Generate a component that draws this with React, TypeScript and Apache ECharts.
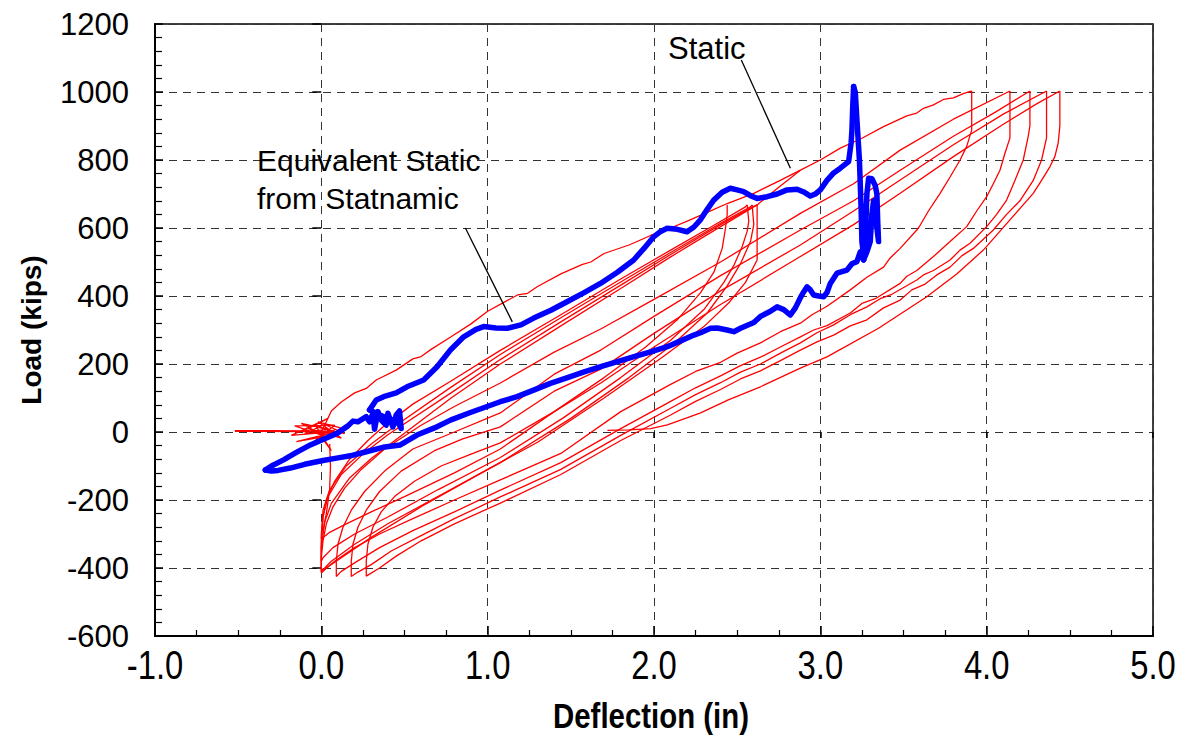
import React, { useEffect, useRef } from "react";
import * as echarts from "echarts";

// ---- axis definitions ----
const xMin = -1;
const xMax = 5;
const xStep = 1;
const yMin = -600;
const yMax = 1200;
const yStep = 200;
const xTickValues = [-1, 0, 1, 2, 3, 4, 5];

// ---- Static load test (red), branches in test order ----
const staticStart: number[][] = [
  [-0.52, 4], [-0.3, 4], [-0.08, 3], [-0.52, 2], [-0.1, 1], [0.05, 8], [-0.12, 25], [0.02, -12],
  [-0.16, 18], [0.08, 20], [-0.05, -30], [0.1, 2], [-0.18, -10], [0.04, 40], [-0.08, 10], [0.12, -18],
  [-0.02, 30], [0.15, 8], [-0.15, -28], [0.0, -15], [0.06, -55], [-0.03, 15], [0.14, -5], [0.02, 22],
  [-0.1, -5], [0.08, 5], [0.0, 0],
];
const staticDrop: number[][] = [
  [0.05, -35], [0.055, -100], [0.05, -170], [0.03, -240], [0.01, -290],
];
const staticVirgin: number[][] = [
  [0.0, 0], [0.03, 30], [0.06, 62], [0.12, 88], [0.2, 115], [0.27, 128], [0.33, 153], [0.45, 182],
  [0.55, 215], [0.6, 222], [0.66, 243], [0.78, 280], [0.9, 318], [1.0, 355], [1.1, 382], [1.18, 403],
  [1.24, 408], [1.3, 428], [1.44, 465], [1.57, 493], [1.62, 500], [1.7, 525], [1.85, 550], [1.98, 578],
  [2.1, 600], [2.2, 620], [2.32, 646], [2.44, 672], [2.6, 702], [2.75, 738], [2.88, 770], [3.0, 800],
  [3.12, 835], [3.25, 864], [3.38, 898], [3.52, 930], [3.58, 938], [3.62, 952], [3.68, 962], [3.74, 978],
  [3.8, 983], [3.86, 995], [3.91, 1003],
];
const unload660a: number[][] = [
  [2.44, 668], [2.44, 640], [2.43, 600], [2.41, 540], [2.36, 470], [2.28, 410], [2.14, 330], [1.95, 250],
  [1.7, 160], [1.4, 60], [1.076, -50], [0.8, -120], [0.5, -190], [0.3, -235], [0.15, -270], [0.05, -295],
  [0.0, -315],
];
const reload660a: number[][] = [
  [0.0, -315], [0.01, -250], [0.03, -200], [0.08, -145], [0.17, -80], [0.28, -25], [0.37, 15], [0.55, 82],
  [0.78, 150], [1.076, 240], [1.44, 345], [1.8, 450], [2.1, 535], [2.35, 605], [2.55, 662], [2.56, 668],
];
const unload660b: number[][] = [
  [2.56, 668], [2.57, 620], [2.56, 590], [2.53, 545], [2.48, 490], [2.42, 440], [2.3, 360], [2.1, 270],
  [1.8, 160], [1.45, 40], [1.076, -75], [0.7, -170], [0.4, -250], [0.2, -300], [0.07, -340], [0.01, -370],
  [0.0, -380],
];
const reload660b: number[][] = [
  [0.0, -380], [0.0, -300], [0.01, -230], [0.05, -170], [0.15, -100], [0.3, -35], [0.45, 20], [0.78, 132],
  [1.076, 228], [1.44, 336], [1.8, 441], [2.1, 528], [2.4, 614], [2.58, 662], [2.59, 668],
];
const unload660c: number[][] = [
  [2.59, 668], [2.6, 610], [2.58, 560], [2.52, 495], [2.44, 430], [2.32, 350], [2.12, 260], [1.85, 160],
  [1.5, 40], [1.076, -90], [0.7, -190], [0.4, -270], [0.2, -330], [0.06, -380], [0.01, -405], [0.0, -412],
];
const reload660c: number[][] = [
  [0.0, -412], [0.0, -330], [0.01, -250], [0.04, -190], [0.12, -125], [0.25, -65], [0.4, -8], [0.78, 115],
  [1.076, 213], [1.44, 324], [1.8, 432], [2.1, 522], [2.4, 610], [2.6, 664], [2.62, 668], [2.62, 600],
  [2.62, 506],
];
const unload660d: number[][] = [
  [2.62, 506], [2.55, 440], [2.45, 380], [2.3, 310], [2.05, 220], [1.7, 100], [1.3, -30], [1.0, -110],
  [0.6, -220], [0.3, -310], [0.12, -370], [0.03, -400], [0.0, -405],
];
const reload660d: number[][] = [
  [0.0, -405], [0.0, -340], [0.02, -265], [0.06, -210], [0.17, -135], [0.3, -78], [0.45, -22], [0.78, 100],
  [1.076, 200], [1.44, 312], [1.8, 422], [2.1, 515], [2.4, 604], [2.62, 668], [2.75, 720], [2.88, 770],
];
const unload1000a: number[][] = [
  [3.91, 1003], [3.91, 888], [3.88, 840], [3.84, 800], [3.78, 750], [3.72, 702], [3.65, 650], [3.6, 608],
  [3.58, 594], [3.48, 540], [3.42, 512], [3.38, 485], [3.28, 455], [3.18, 418], [3.04, 370], [2.95, 345],
  [2.88, 320], [2.76, 295], [2.64, 262], [2.5, 232], [2.4, 205], [2.25, 178], [2.1, 140], [1.8, 60],
  [1.44, -63], [1.076, -141], [0.8, -200], [0.55, -255], [0.35, -300], [0.2, -340], [0.08, -380],
  [0.02, -405], [0.0, -415],
];
const reload1000a: number[][] = [
  [0.0, -415], [0.0, -370], [0.01, -320], [0.03, -270], [0.07, -220], [0.14, -165], [0.24, -110],
  [0.38, -50], [0.6, 20], [0.8, 75], [1.076, 144], [1.4, 235], [1.68, 303], [2.0, 390], [2.4, 500],
  [2.88, 643], [3.2, 730], [3.48, 829], [3.8, 920], [4.14, 1003],
];
const unload1000b: number[][] = [
  [4.14, 1003], [4.14, 865], [4.11, 820], [4.08, 770], [4.04, 730], [4.0, 692], [3.94, 650], [3.88, 604],
  [3.78, 560], [3.72, 534], [3.68, 516], [3.58, 475], [3.52, 458], [3.48, 437], [3.33, 392], [3.25, 378],
  [3.18, 350], [3.04, 313], [2.96, 300], [2.88, 280], [2.76, 250], [2.64, 220], [2.52, 195], [2.4, 165],
  [2.25, 130], [2.1, 90], [1.8, 10], [1.44, -90], [1.076, -171], [0.8, -235], [0.55, -290], [0.35, -340],
  [0.2, -385], [0.12, -410], [0.09, -425],
];
const reload1000b: number[][] = [
  [0.09, -425], [0.09, -380], [0.1, -330], [0.13, -280], [0.18, -230], [0.26, -175], [0.38, -115],
  [0.55, -50], [0.8, 0], [1.076, 56], [1.4, 170], [1.68, 241], [2.0, 340], [2.4, 460], [2.88, 594],
  [3.2, 680], [3.48, 770], [3.8, 870], [4.05, 940], [4.26, 1003],
];
const unload1000c: number[][] = [
  [4.26, 1003], [4.26, 900], [4.25, 870], [4.22, 800], [4.17, 740], [4.12, 682], [4.06, 640], [4.0, 604],
  [3.9, 555], [3.84, 535], [3.78, 506], [3.68, 475], [3.62, 462], [3.58, 447], [3.43, 405], [3.36, 392],
  [3.28, 368], [3.18, 345], [3.08, 315], [2.98, 292], [2.88, 262], [2.76, 232], [2.64, 200], [2.52, 176],
  [2.4, 145], [2.25, 110], [2.1, 70], [1.8, -10], [1.44, -110], [1.076, -191], [0.8, -255], [0.6, -305],
  [0.42, -350], [0.3, -390], [0.22, -412], [0.18, -425],
];
const reload1000c: number[][] = [
  [0.18, -425], [0.18, -380], [0.19, -330], [0.22, -280], [0.27, -230], [0.35, -175], [0.48, -115],
  [0.68, -55], [0.85, -20], [1.076, 15], [1.4, 120], [1.68, 185], [2.0, 290], [2.4, 415], [2.88, 550],
  [3.2, 650], [3.48, 741], [3.8, 845], [4.1, 935], [4.36, 1003],
];
const unload1000d: number[][] = [
  [4.36, 1003], [4.36, 865], [4.33, 800], [4.28, 740], [4.2, 680], [4.12, 640], [4.04, 594], [3.92, 540],
  [3.85, 518], [3.78, 485], [3.7, 462], [3.63, 435], [3.55, 418], [3.48, 388], [3.38, 365], [3.28, 330],
  [3.18, 312], [3.08, 285], [2.98, 265], [2.88, 241], [2.76, 210], [2.64, 180], [2.52, 156], [2.4, 125],
  [2.25, 90], [2.1, 50], [1.8, -25], [1.44, -125], [1.076, -209], [0.8, -270], [0.6, -320], [0.45, -365],
  [0.35, -400], [0.29, -418], [0.27, -424],
];
const reload1000d: number[][] = [
  [0.27, -424], [0.27, -380], [0.28, -330], [0.31, -280], [0.36, -235], [0.44, -190], [0.56, -145],
  [0.72, -100], [0.9, -65], [1.076, -32], [1.4, 60], [1.68, 144], [2.0, 250], [2.4, 375], [2.88, 516],
  [3.2, 610], [3.48, 702], [3.8, 810], [4.1, 905], [4.3, 965], [4.44, 1003],
];
const unloadFinal: number[][] = [
  [4.44, 1003], [4.44, 900], [4.43, 850], [4.41, 810], [4.38, 780], [4.33, 740], [4.28, 702], [4.14, 624],
  [3.98, 535], [3.82, 465], [3.64, 398], [3.35, 305], [3.04, 221], [2.88, 188], [2.64, 133], [2.45, 95],
  [2.28, 56], [2.16, 35], [2.08, 21], [1.98, 10], [1.85, 6], [1.72, 5],
];

// ---- Equivalent static from Statnamic (blue) ----
const statnamicStart: number[][] = [
  [-0.337, -112], [-0.3, -100], [-0.227, -82], [-0.15, -60], [-0.066, -38], [0.02, -20], [0.094, -4],
  [0.16, 18], [0.19, 32], [0.22, 30], [0.27, 45], [0.29, 30], [0.31, 55], [0.32, 8], [0.34, 60], [0.36, 35],
  [0.39, 20], [0.4, 55], [0.43, 15], [0.45, 50], [0.47, 62], [0.48, 10], [0.46, 30], [0.4, 40], [0.33, 55],
  [0.29, 65],
];
const statnamicLoad: number[][] = [
  [0.29, 65], [0.33, 94], [0.375, 104], [0.45, 115], [0.515, 133], [0.615, 153], [0.696, 192], [0.776, 241],
  [0.856, 280], [0.93, 302], [0.976, 310], [1.05, 306], [1.117, 305], [1.2, 315], [1.277, 335], [1.38, 358],
  [1.477, 383], [1.58, 410], [1.678, 437], [1.78, 470], [1.878, 506], [1.94, 540], [1.998, 574], [2.04, 590],
  [2.079, 599], [2.14, 596], [2.199, 589], [2.24, 603], [2.279, 624], [2.32, 655], [2.359, 682], [2.41, 705],
  [2.459, 717], [2.5, 712], [2.539, 707], [2.58, 695], [2.62, 687], [2.68, 692], [2.74, 700], [2.8, 712],
  [2.86, 714], [2.9, 706], [2.94, 694], [2.97, 700], [3.0, 712], [3.04, 740], [3.08, 762], [3.12, 776],
  [3.17, 795], [3.185, 850], [3.19, 888], [3.195, 960], [3.2, 1016],
];
const statnamicPeak: number[][] = [
  [3.2, 1016], [3.21, 1000], [3.22, 918], [3.235, 800], [3.245, 660], [3.25, 560], [3.26, 520], [3.27, 560],
  [3.28, 700], [3.29, 746], [3.31, 745], [3.33, 725], [3.34, 700], [3.345, 620], [3.35, 560], [3.34, 600],
  [3.32, 680], [3.31, 640], [3.3, 560], [3.28, 530], [3.26, 506],
];
const statnamicUnload: number[][] = [
  [3.26, 506], [3.24, 530], [3.22, 501], [3.19, 495], [3.16, 476], [3.1, 467], [3.06, 437], [3.04, 410],
  [3.02, 398], [2.99, 400], [2.96, 403], [2.94, 418], [2.92, 427], [2.9, 412], [2.88, 395], [2.85, 365],
  [2.82, 344], [2.78, 360], [2.74, 368], [2.7, 355], [2.64, 340], [2.6, 322], [2.52, 305], [2.48, 295],
  [2.44, 300], [2.38, 306], [2.34, 305], [2.28, 292], [2.24, 285], [2.16, 268], [2.08, 251], [1.98, 236],
  [1.88, 222], [1.78, 207], [1.68, 192], [1.58, 177], [1.48, 160], [1.377, 143], [1.28, 124], [1.177, 104],
  [1.076, 89], [0.98, 72], [0.9, 58], [0.776, 35], [0.68, 12], [0.575, -9], [0.475, -38], [0.37, -45],
  [0.27, -58], [0.174, -70], [0.1, -76], [0.01, -84], [-0.1, -95], [-0.186, -106], [-0.26, -113],
  [-0.3, -115], [-0.337, -112],
];

// ---- annotations ----
const staticLeader: number[][] = [[2.525, 1094], [2.82, 776]];
const statnamicLeader: number[][] = [[0.866, 600], [1.148, 324]];
const staticLabel = "Static";
const statnamicLabel = ["Equivalent Static", "from Statnamic"];
const xTitle = "Deflection (in)";
const yTitle = "Load (kips)";

const redBranches = [
  staticStart, staticDrop, staticVirgin,
  unload660a, reload660a, unload660b, reload660b, unload660c, reload660c, unload660d, reload660d,
  unload1000a, reload1000a, unload1000b, reload1000b, unload1000c, reload1000c, unload1000d, reload1000d,
  unloadFinal,
];
const blueBranches = [statnamicStart, statnamicLoad, statnamicPeak, statnamicUnload];

export default function App() {
  const ref = useRef<HTMLDivElement>(null);
  useEffect(() => {
    if (!ref.current) return;
    const chart = echarts.init(ref.current, undefined, { renderer: "svg" });
    const sans = '"Liberation Sans", Arial, sans-serif';
    const series: any[] = [];
    redBranches.forEach((d) =>
      series.push({
        type: "line", data: d, showSymbol: false, symbol: "none", silent: true, z: 2,
        lineStyle: { color: "#FF0000", width: 1.3 },
      })
    );
    blueBranches.forEach((d) =>
      series.push({
        type: "line", data: d, showSymbol: false, symbol: "none", silent: true, z: 3,
        lineStyle: { color: "#0000FF", width: 5.5, join: "round", cap: "round" },
      })
    );
    [staticLeader, statnamicLeader].forEach((d) =>
      series.push({
        type: "line", data: d, showSymbol: false, symbol: "none", silent: true, z: 4,
        lineStyle: { color: "#000", width: 1.3 },
      })
    );
    const grid = { left: 155, right: 25, top: 24, bottom: 101, show: true, borderColor: "#000", borderWidth: 1.5 };
    chart.setOption({
      animation: false,
      backgroundColor: "#fff",
      grid,
      xAxis: [
        {
          type: "value", min: xMin, max: xMax, interval: xStep, position: "bottom",
          axisLine: { show: true, onZero: false, lineStyle: { color: "#000", width: 2 } },
          axisTick: { show: true, inside: true, length: 10, lineStyle: { color: "#000", width: 1.5 } },
          minorTick: { show: true, splitNumber: 4, length: 6, lineStyle: { color: "#000", width: 1.2 } },
          splitLine: { show: true, lineStyle: { color: "#333", width: 1, type: [8, 6] } },
          axisLabel: { show: false },
        },
        {
          type: "value", min: xMin, max: xMax, interval: xStep, position: "bottom",
          axisLine: { show: false }, axisLabel: { show: false }, splitLine: { show: false },
          axisTick: { show: true, inside: false, length: 6, lineStyle: { color: "#000", width: 1.5 } },
        },
      ],
      yAxis: [
        {
          type: "value", min: yMin, max: yMax, interval: yStep, position: "left",
          axisLine: { show: true, onZero: false, lineStyle: { color: "#000", width: 2 } },
          axisTick: { show: true, inside: true, length: 8, lineStyle: { color: "#000", width: 1.5 } },
          minorTick: { show: true, splitNumber: 5, length: 7, lineStyle: { color: "#000", width: 1.2 } },
          splitLine: { show: true, lineStyle: { color: "#333", width: 1, type: [8, 6] } },
          axisLabel: { fontFamily: sans, fontSize: 31, color: "#000", margin: 26, formatter: (v: number) => String(v) },
          name: yTitle, nameLocation: "middle", nameGap: 110, nameRotate: 90,
          nameTextStyle: { fontFamily: sans, fontWeight: "bold", fontSize: 28, color: "#000" },
        },
        {
          type: "value", min: yMin, max: yMax, interval: yStep, position: "left",
          axisLine: { show: false }, axisLabel: { show: false }, splitLine: { show: false },
          axisTick: { show: true, inside: false, length: 9, lineStyle: { color: "#000", width: 1.5 } },
        },
      ],
      series,
    });

    // x tick labels and title: condensed look via horizontal scaling of real text
    const graphics: any[] = [];
    xTickValues.forEach((v) => {
      const p = chart.convertToPixel({ gridIndex: 0 }, [v, yMin]) as number[];
      graphics.push({
        type: "text", x: p[0], y: p[1] + 8, scaleX: 0.8, z: 10,
        style: { text: v.toFixed(1), font: `41px ${sans}`, fill: "#000", align: "center", verticalAlign: "top" },
      });
    });
    const left = chart.convertToPixel({ gridIndex: 0 }, [xMin, yMin]) as number[];
    const right = chart.convertToPixel({ gridIndex: 0 }, [xMax, yMin]) as number[];
    graphics.push({
      type: "text", x: (left[0] + right[0]) / 2 - 3, y: left[1] + 80, scaleX: 0.84, z: 10,
      style: { text: xTitle, font: `bold 35px ${sans}`, fill: "#000", align: "center", verticalAlign: "middle" },
    });
    graphics.push(
      {
        type: "text", x: 668, y: 48, z: 10,
        style: { text: staticLabel, font: `31px ${sans}`, fill: "#000", verticalAlign: "middle" },
      },
      {
        type: "text", x: 257, y: 160, z: 10,
        style: { text: statnamicLabel[0], font: `30px ${sans}`, fill: "#000", verticalAlign: "middle" },
      },
      {
        type: "text", x: 257, y: 198, z: 10,
        style: { text: statnamicLabel[1], font: `30px ${sans}`, fill: "#000", verticalAlign: "middle" },
      }
    );
    chart.setOption({ graphic: graphics });
    return () => chart.dispose();
  }, []);
  return (
    <div
      ref={ref}
      style={{ position: "fixed", left: 0, top: 0, width: 1178, height: 737, background: "#fff" }}
    />
  );
}
